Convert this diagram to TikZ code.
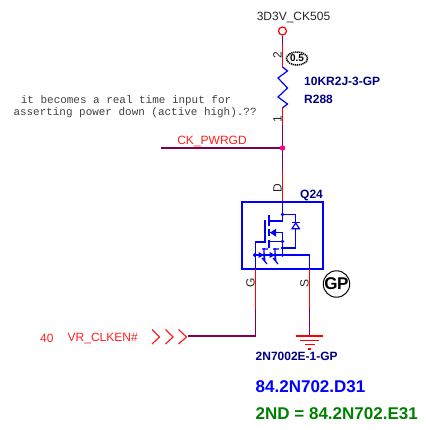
\documentclass[tikz,border=0pt]{standalone}
\usepackage{fontspec}
\setmainfont{Liberation Sans}
\newfontfamily\monof{Liberation Mono}
\usetikzlibrary{arrows.meta,shapes.geometric}
\definecolor{wirep}{RGB}{128,0,80}
\definecolor{netred}{RGB}{255,30,30}
\definecolor{symb}{RGB}{0,0,255}
\definecolor{navy}{RGB}{0,0,132}
\definecolor{grn}{RGB}{0,128,0}
\tikzset{
 pin/.style={draw=red,line width=1.2pt},
 wire/.style={draw=wirep,line width=1.2pt},
 sym/.style={draw=symb,line width=1.2pt},
 dotb/.style={circle,fill=symb,inner sep=0pt,minimum size=3.6pt},
 lab/.style={inner sep=0pt,font=\fontsize{12pt}{14pt}\selectfont,text=black!85},
 pinlab/.style={lab,rotate=90},
 refl/.style={inner sep=0pt,anchor=west,text=navy,font=\fontsize{12pt}{14pt}\selectfont\bfseries},
 netl/.style={inner sep=0pt,text=netred,font=\fontsize{12pt}{14pt}\selectfont},
}
\begin{document}
\begin{tikzpicture}[x=1pt,y=-1pt]
\useasboundingbox (0,0) rectangle (428,430);
% named points
\coordinate (rtop) at (282.5,67);
\coordinate (rbot) at (282.5,108);
\coordinate (boxd) at (282.5,202);
\coordinate (boxg) at (255.7,269);
\coordinate (boxs) at (309.3,269);
\coordinate (gnd) at (309.3,336);
\coordinate (gcor) at (255.7,336);
\coordinate (inp) at (188,336);
\coordinate (ckw) at (161,148);
% power
\node (pwr) [circle,draw=red,line width=1.2pt,minimum size=8pt,inner sep=0pt] at (282.5,31) {};
\node (pwrl) [lab] at (293.5,18) {3D3V\_CK505};
\draw[pin] (pwr.south) -- (rtop);
\draw[wire] (pwr.south) -- (282.5,45);
\draw[sym,line join=miter] (rtop) -- (287.5,71) -- (278,78) -- (287.5,88) -- (278,97) -- (287.5,104) -- (rbot);
\draw[pin] (rbot) -- (boxd);
\draw[wire] (282.5,125) -- (282.5,170);
\node (junc) [circle,fill=magenta,inner sep=0pt,minimum size=5.5pt] at (282.5,148) {};
\draw[wire] (ckw) -- (junc);
\node (ckl) [netl] at (212,141.5) {CK\_PWRGD};
\node (p2) [pinlab] at (277.5,55) {2};
\node (p1) [pinlab] at (277.5,119) {1};
\node (pd) [pinlab] at (277.5,188) {D};
\node (pg) [pinlab] at (250.5,283) {G};
\node (ps) [pinlab] at (304.5,283) {S};
\node (rv) [refl] at (304,81) {10KR2J-3-GP};
\node (rr) [refl] at (304,99) {R288};
% marks
\node (m05) [ellipse,draw=black,dash pattern=on 1.2pt off 0.8pt,line width=1.6pt,minimum width=21pt,minimum height=13pt,inner sep=0pt,font=\fontsize{10pt}{10pt}\selectfont\bfseries] at (297,58.5) {0.5};
\node (mgp) [circle,draw=black,line width=1pt,minimum size=25pt,inner sep=0pt,font=\fontsize{17pt}{17pt}\selectfont\bfseries] at (336.5,284) {\kern-0.4pt G\kern-0.5pt P};
% note
\node (note) [inner sep=0pt,anchor=west,align=left,text=black!75,font=\monof\fontsize{10.95pt}{12.3pt}\selectfont] at (13.3,107) {\hspace*{7.4pt}it becomes a real time input for\\asserting power down (active high).??};
% MOSFET
\node (qref) [refl] at (300,195) {Q24};
\node (qbox) [draw=symb,line width=1.3pt,minimum width=81pt,minimum height=67pt,inner sep=0pt] at (282.5,235.5) {};
\draw[pin] (boxg) -- (gcor);
\draw[wire] (255.7,309) -- (gcor);
\draw[wire] (gcor) -- (inp);
\draw[pin] (boxs) -- (gnd);
\draw[wire] (309.3,309) -- (gnd);
\draw[sym] (boxd) -- (282.5,221) -- (269,221);
\draw[sym] (269,215) -- (269,226) (269,229) -- (269,236) (269,240) -- (269,248);
\draw[sym] (269,232.7) -- (282.5,232.7) -- (282.5,255);
\draw[sym] (269,241.5) -- (282.5,241.5);
\draw[sym] (265,220) -- (265,242) -- (255.7,242) -- (boxg);
\draw[sym] (282.5,214.5) -- (295.7,214.5) -- (295.7,248) -- (282.5,248);
\fill[symb] (270,232.7) -- (276,228.7) -- (276,236.7) -- cycle;
\draw[sym,fill=white,line join=miter] (295.7,223) -- (292,228.7) -- (299.4,228.7) -- cycle;
\draw[sym] (291.5,222.5) -- (300,222.5);
\draw[sym] (255,255) -- (309.3,255) -- (boxs);
\draw[sym] (264,248) -- (264,259) (262,249) -- (268,249) (264,252) -- (265,262) (262,258) -- (267,264);
\fill[symb] (264,255) -- (258.5,252) -- (258.5,258) -- cycle;
\draw[sym] (275,248) -- (275,259) (273,249) -- (279,249) (275,252) -- (276,262) (273,258) -- (278,264);
\fill[symb] (275,255) -- (269.5,252) -- (269.5,258) -- cycle;
\node[dotb] (d1) at (282.5,214.5) {};
\node[dotb] (d2) at (282.5,241.5) {};
\node[dotb] (d3) at (282.5,248) {};
\node[dotb] (d4) at (282.5,255) {};
\node[dotb] (d5) at (254.5,255) {};
% input
\node (n40) [netl,anchor=west] at (40,338) {40};
\node (vr) [netl,anchor=west] at (67.5,338) {VR\_CLKEN\#};
\draw[draw=netred,line width=1.2pt] (152,329.5) -- (159.5,337) -- (152,344)
 (165.5,329.5) -- (173,337) -- (165.5,344) (178.5,329.5) -- (186.5,337) -- (178.5,344);
% ground
\draw[draw=red,line width=1.2pt] (295.5,336) -- (323,336) (300,340.3) -- (319,340.3) (305,344.5) -- (315,344.5) (308,349) -- (311,349);
% part labels
\node (part) [refl] at (255.5,356.5) {2N7002E-1-GP};
\node (bom1) [inner sep=0pt,anchor=west,text=symb,font=\fontsize{17pt}{19pt}\selectfont\bfseries] at (255.5,387) {84.2N702.D31};
\node (bom2) [inner sep=0pt,anchor=west,text=grn,font=\fontsize{17pt}{19pt}\selectfont\bfseries] at (255.5,414) {2ND = 84.2N702.E31};
\end{tikzpicture}
\end{document}
